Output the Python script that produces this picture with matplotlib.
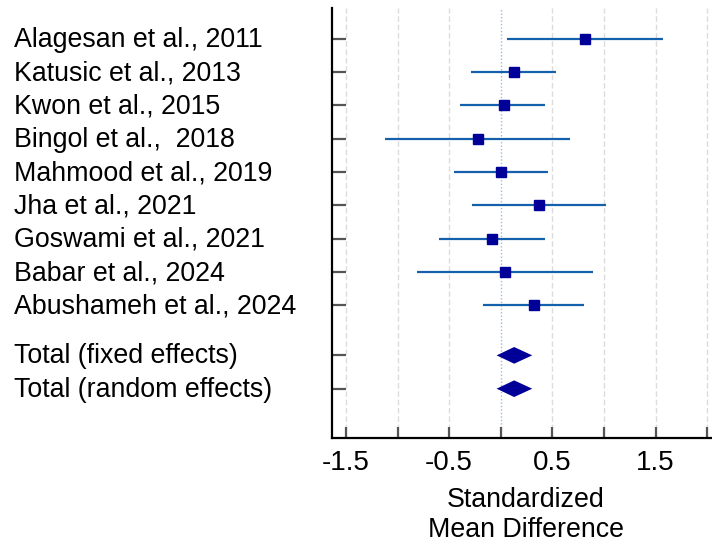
import matplotlib
matplotlib.use('Agg')
import matplotlib.pyplot as plt
from matplotlib.transforms import blended_transform_factory

plt.rcParams['font.family'] = ['Liberation Sans', 'DejaVu Sans']

# study data: standardized mean difference with 95% CI
studies = ['Alagesan et al., 2011', 'Katusic et al., 2013', 'Kwon et al., 2015',
           'Bingol et al.,  2018', 'Mahmood et al., 2019', 'Jha et al., 2021',
           'Goswami et al., 2021', 'Babar et al., 2024', 'Abushameh et al., 2024']
smd = [0.815, 0.13, 0.03, -0.22, 0.005, 0.375, -0.085, 0.045, 0.32]
ci_low = [0.06, -0.29, -0.39, -1.125, -0.45, -0.275, -0.60, -0.81, -0.175]
ci_high = [1.57, 0.54, 0.43, 0.675, 0.455, 1.02, 0.43, 0.89, 0.81]

totals = ['Total (fixed effects)', 'Total (random effects)']
tot_est = [0.13, 0.13]
tot_low = [-0.04, -0.04]
tot_high = [0.305, 0.305]

xticks = [-1.5, -1.0, -0.5, 0.0, 0.5, 1.0, 1.5, 2.0]
xticklabels = ['-1.5', '', '-0.5', '', '0.5', '', '1.5', '']

line_col = '#1460ac'
mark_col = '#000099'

fig = plt.figure(figsize=(7.12, 5.45), dpi=100)
ax = fig.add_axes([332/712, 1-437.7/545, 1-332/712, (437.7-8)/545])

ys = list(range(len(studies)))
ys_tot = [len(studies) + 0.5, len(studies) + 1.5]

# grid
for xv in xticks:
    if xv == 0:
        ax.axvline(xv, color='#9bbbe0', lw=1.0, ls=(0, (1, 1.5)), zorder=0)
    else:
        ax.axvline(xv, color='#dcdcdc', lw=1.0, ls=(0, (4, 2)), zorder=0)

for y, m, lo, hi in zip(ys, smd, ci_low, ci_high):
    ax.plot([lo, hi], [y, y], color=line_col, lw=1.6, solid_capstyle='butt', zorder=2)
    ax.plot(m, y, marker='s', ms=7.2, color=mark_col, mec=mark_col, zorder=3)

for y, m, lo, hi in zip(ys_tot, tot_est, tot_low, tot_high):
    ax.fill([lo, m, hi, m], [y, y - 0.25, y, y + 0.25], color=mark_col, lw=0, zorder=3)

ax.set_xlim(-1.635, 2.047)
ax.set_ylim(11.97, -0.92)

ax.spines['top'].set_visible(False)
ax.spines['right'].set_visible(False)
ax.spines['left'].set_linewidth(1.6)
ax.spines['bottom'].set_linewidth(1.6)

ax.set_yticks(ys + ys_tot)
ax.set_yticklabels([])
ax.tick_params(axis='y', direction='in', length=10, width=1.6, color='#555555')
ax.set_xticks(xticks)
ax.set_xticklabels(xticklabels, fontsize=20)
ax.tick_params(axis='x', direction='in', length=8, width=1.6, color='#555555', pad=9)

trans = blended_transform_factory(fig.transFigure, ax.transData)
for y, name in zip(ys + ys_tot, studies + totals):
    ax.text(14/712, y + 0.03, name, transform=trans, ha='left', va='center', fontsize=19.3)

ax.set_xlabel('Standardized\nMean Difference', fontsize=19.3, labelpad=8, linespacing=1.2)
ax.xaxis.set_label_coords(0.5105, -0.115)

fig.savefig('out.png', dpi=100)
